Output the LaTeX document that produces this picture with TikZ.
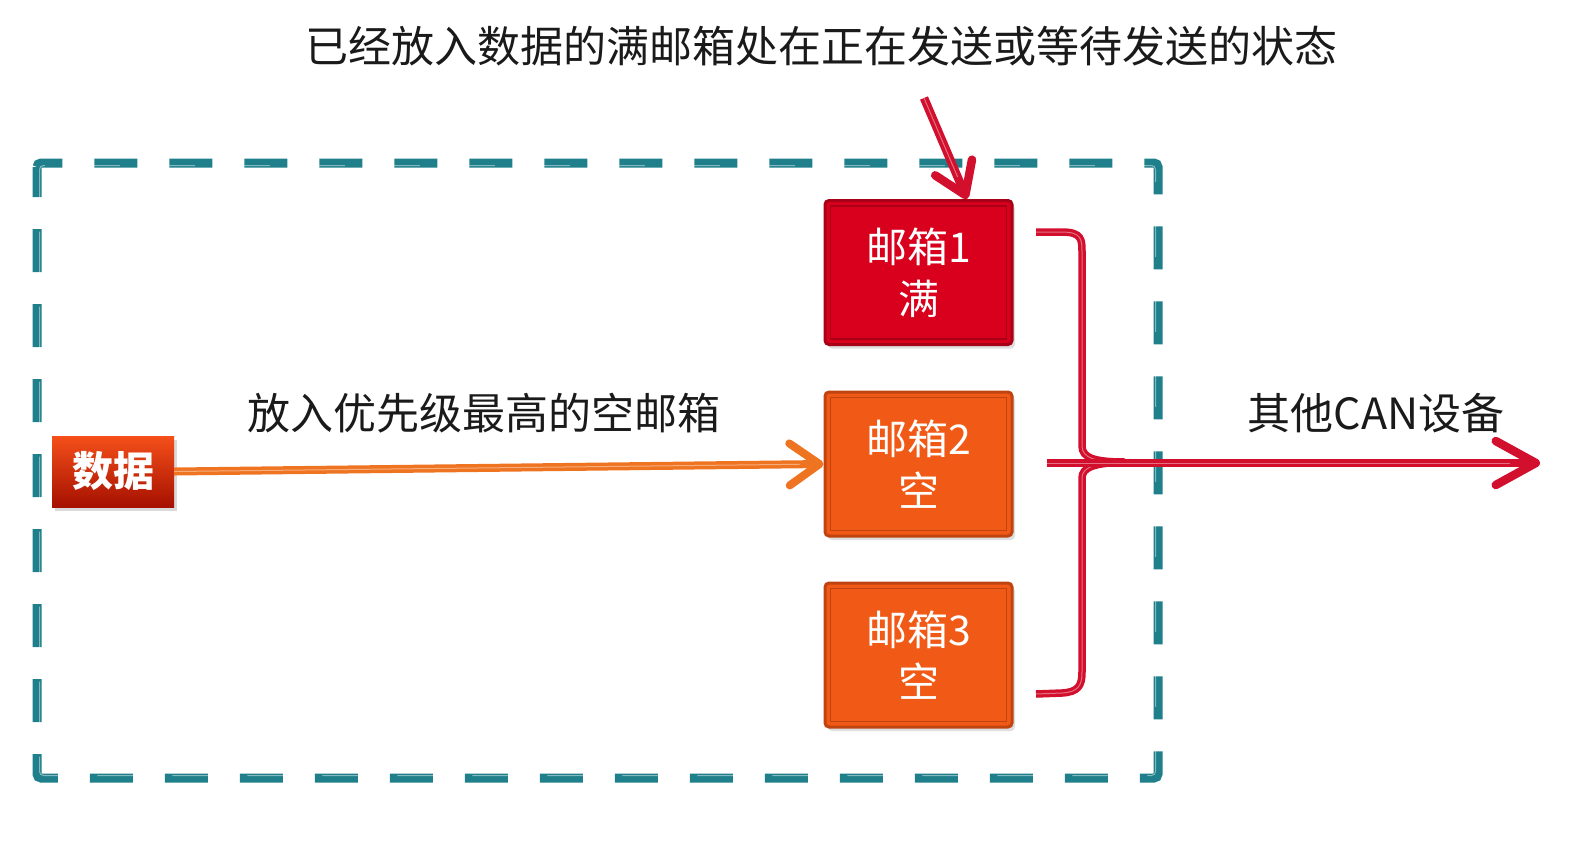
\documentclass[tikz,border=0pt]{standalone}
\usepackage{fontspec}
\setmainfont{Noto Sans CJK SC}
\usetikzlibrary{arrows.meta,shadows}
\definecolor{tealline}{HTML}{1F7F8B}
\definecolor{mred}{HTML}{D8001C}
\definecolor{mredd}{HTML}{A80016}
\definecolor{morange}{HTML}{F15A16}
\definecolor{moranged}{HTML}{BF4410}
\definecolor{aorange}{HTML}{EF7422}
\definecolor{ared}{HTML}{D2102E}
\definecolor{txt}{HTML}{1A1A1A}
\definecolor{dtop}{HTML}{F5501A}
\definecolor{dbot}{HTML}{A51000}
\begin{document}
\begin{tikzpicture}[x=1pt,y=-1pt,
  mbox/.style={rectangle, rounded corners=4pt, minimum width=187pt, minimum height=144pt,
    inner sep=0pt, line width=3pt, align=center, text=white,
    font=\fontsize{41}{52}\selectfont,
    drop shadow={opacity=0.25, shadow xshift=3pt, shadow yshift=-4pt}},
  fullbox/.style={mbox, fill=mred, draw=mredd},
  emptybox/.style={mbox, fill=morange, draw=moranged},
  innerline/.style={line width=1.5pt},
  databox/.style={rectangle, minimum width=122pt, minimum height=71pt, inner sep=0pt,
    top color=dtop, bottom color=dbot, text=white, font=\fontsize{41}{48}\selectfont\bfseries,
    drop shadow={opacity=0.3, shadow xshift=3pt, shadow yshift=-4pt}},
  lbl/.style={text=txt, inner sep=0pt, font=\fontsize{43}{50}\selectfont},
  frame/.style={draw=tealline, line width=9pt, dash pattern=on 43pt off 32pt, dash phase=13pt, rounded corners=4pt},
  hl/.style={postaction={draw=white, line width=1pt, opacity=0.4, -, shorten >=#1}},
  hl/.default=0pt,
  redline/.style={draw=ared, line width=8.5pt},
]
\useasboundingbox (0,0) rectangle (1580,847);

% dashed frame
\draw[frame] (37,163) rectangle (1158,778);
\draw[draw=white, opacity=0.45, line width=1pt, dash pattern=on 43pt off 32pt, dash phase=13pt, rounded corners=4pt] (39.5,165.5) rectangle (1155.5,775.5);

% mailboxes
\node[fullbox] (m1) at (918.5,272.5) {邮箱1\\满};
\node[emptybox] (m2) at (918.5,464) {邮箱2\\空};
\node[emptybox] (m3) at (918.5,655) {邮箱3\\空};
\draw[innerline, draw=mredd] ([shift={(7,7)}]m1.north west) rectangle ([shift={(-7,-7)}]m1.south east);
\draw[innerline, draw=moranged] ([shift={(7,7)}]m2.north west) rectangle ([shift={(-7,-7)}]m2.south east);
\draw[innerline, draw=moranged] ([shift={(7,7)}]m3.north west) rectangle ([shift={(-7,-7)}]m3.south east);

% data box
\node[databox] (d) at (113,471.5) {数据};

% labels
\node[lbl] (top) at (821,46) {已经放入数据的满邮箱处在正在发送或等待发送的状态};
\node[lbl] (put) at (484,413) {放入优先级最高的空邮箱};
\node[lbl] (can) at (1376,413) {其他CAN设备};

% orange arrow
\draw[draw=aorange, line width=8pt, -{Straight Barb[length=30pt, width=42pt, round]}, hl=24pt] (d.east) -- (m2.west);

% top red arrow
\coordinate (ts) at (924,98);
\coordinate (tipx) at (967,0);
\draw[redline, -{Straight Barb[length=30pt, width=40pt, round]}, hl=24pt] (ts) -- (m1.north -| tipx);

% brace
\draw[redline, line width=7.5pt, hl] (1036,232) -- (1062,232) .. controls (1082,232) and (1082,240) .. (1082,252)
  -- (1082,446) .. controls (1082,458) and (1095,462) .. (1125,462)
  .. controls (1095,463) and (1082,467) .. (1082,478)
  -- (1082,672) .. controls (1082,686) and (1078,692) .. (1062,693) -- (1036,694);

% output arrow
\coordinate (os) at (1047,463);
\coordinate (oe) at (1540,463);
\draw[redline, -{Straight Barb[length=40pt, width=44pt, round]}, hl=30pt] (os) -- (oe);
\end{tikzpicture}
\end{document}
